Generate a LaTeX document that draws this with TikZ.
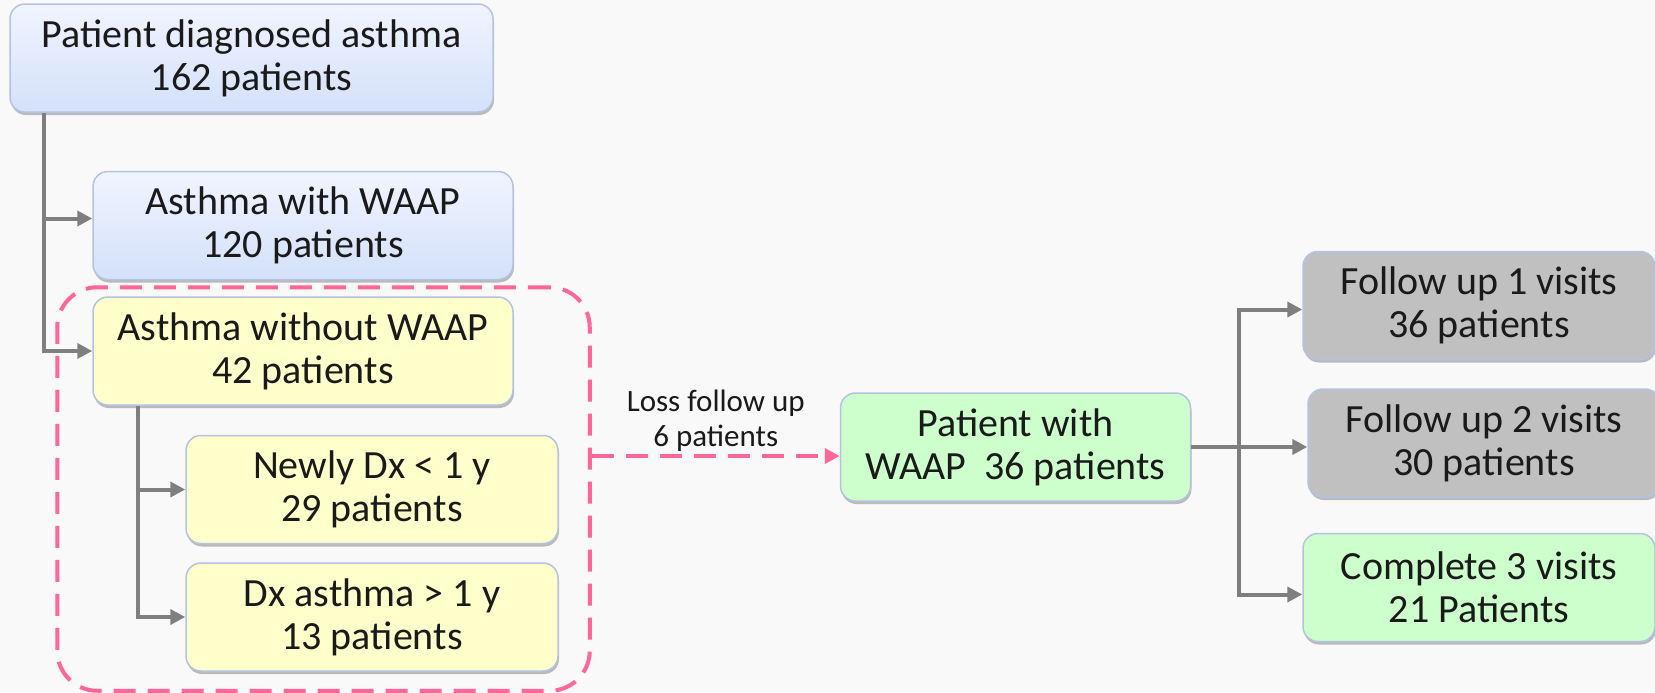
\documentclass[tikz,border=0pt]{standalone}
\usepackage{fontspec}
\setmainfont{Carlito}
\usetikzlibrary{positioning,fit,shadows,arrows.meta}
\definecolor{pagebg}{HTML}{F9F9F9}
\definecolor{ink}{HTML}{1A1A1A}
\definecolor{boxline}{HTML}{B4C3E3}
\definecolor{bluetop}{HTML}{F0F4FF}
\definecolor{bluebot}{HTML}{D4E1FA}
\definecolor{yellowfill}{HTML}{FFFFCC}
\definecolor{greenfill}{HTML}{CCFFCC}
\definecolor{grayfill}{HTML}{C0C0C0}
\definecolor{treeline}{HTML}{7F7F7F}
\definecolor{losspink}{HTML}{FF6699}
\begin{document}
\begin{tikzpicture}[
  box/.style={rectangle, rounded corners=7.5pt, draw=boxline, line width=0.75pt,
    minimum height=54pt, align=center, text=ink, font=\fontsize{20}{21.5}\selectfont,
    drop shadow={shadow xshift=0.5pt, shadow yshift=-1.5pt, fill=black, opacity=0.25}},
  bluebox/.style={box, top color=bluetop, bottom color=bluebot},
  yellowbox/.style={box, fill=yellowfill},
  greenbox/.style={box, fill=greenfill},
  graybox/.style={box, fill=grayfill},
  tree/.style={draw=treeline, line width=2pt, -{Triangle[length=7.5pt,width=7.5pt]}},
  lossline/.style={draw=losspink, line width=2pt, dash pattern=on 11pt off 6pt},
]
\fill[pagebg] (0,0) rectangle (827.5pt,-346pt);
\useasboundingbox (0,0) rectangle (827.5pt,-346pt);

\node (top) [bluebox, minimum width=241.5pt] at (125.75pt,-29pt) {Patient diagnosed asthma\\162 patients};
\node (waap) [bluebox, minimum width=210pt, below right=29pt and 41.5pt of top.south west] {Asthma with WAAP\\120 patients};
\node (nowaap) [yellowbox, minimum width=210pt, below=8pt of waap] {Asthma without WAAP\\42 patients};
\node (newly) [yellowbox, minimum width=186pt, below right=14.5pt and 46.5pt of nowaap.south west] {Newly Dx {\textless} 1 y\\29 patients};
\node (dxold) [yellowbox, minimum width=186pt, below=9pt of newly] {Dx asthma {\textgreater} 1 y\\13 patients};

\node (grp) [lossline, rounded corners=20pt, inner xsep=16.5pt, inner ysep=7pt,
  xshift=-1pt, yshift=-2.5pt, fit=(nowaap)(dxold)] {};

\node (green) [greenbox, minimum width=175pt, right=124pt of grp, yshift=21pt] {Patient with\\WAAP\ \ 36 patients};
\node (fu2) [graybox, minimum width=176pt, right=58pt of green, yshift=2pt] {Follow up 2 visits\\30 patients};
\node (fu1) [graybox, minimum width=176pt, above=14pt of fu2, xshift=-2.5pt] {Follow up 1 visits\\36 patients};
\node (fu3) [greenbox, minimum width=176pt, below=17.5pt of fu2, xshift=-2.5pt] {Complete 3 visits\\21 Patients};

\coordinate (trunk) at ([xshift=17.5pt]top.south west);
\draw[tree] (trunk) |- ([yshift=3.5pt]waap.west);
\draw[tree] (trunk) |- (nowaap.west);
\coordinate (subtrunk) at ([xshift=23pt]nowaap.south west);
\draw[tree] (subtrunk) |- (newly.west);
\draw[tree] (subtrunk) |- (dxold.west);

\coordinate (lossin) at ([yshift=-4.5pt]green.west);
\draw[lossline, -{Triangle[length=7.5pt,width=7.5pt]}] (grp.east |- lossin) -- (lossin)
  node[midway, above=-2pt, align=center, text=ink, font=\fontsize{15.5}{17.5}\selectfont] {Loss follow up\\6 patients};

\coordinate (split) at ([xshift=24pt]green.east);
\draw[tree] (green.east) -- (fu2.west |- green.east);
\draw[tree] (split) |- ([yshift=-2pt]fu1.west);
\draw[tree] (split) |- ([yshift=-3.5pt]fu3.west);
\end{tikzpicture}
\end{document}
